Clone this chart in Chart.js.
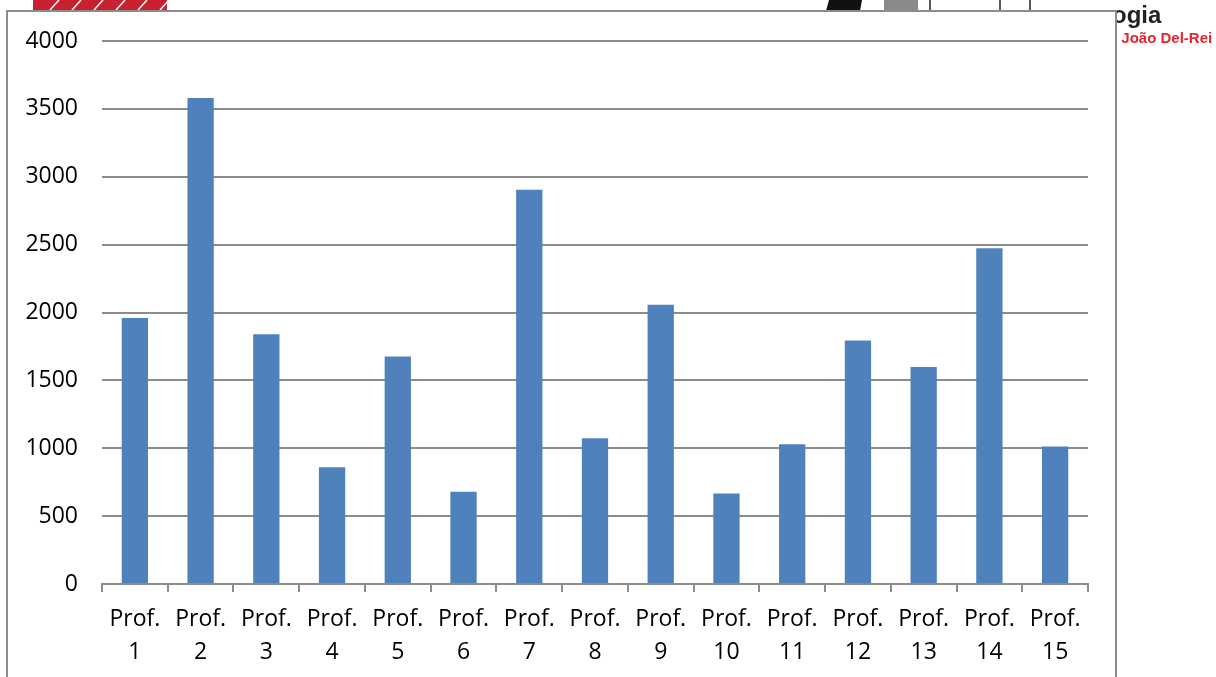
<!DOCTYPE html>
<html>
<head>
<meta charset="utf-8">
<script src="https://cdn.jsdelivr.net/npm/chart.js@4"></script>
<style>
  html, body { margin: 0; padding: 0; background: #fff; }
  #wrap { width: 1216px; height: 677px; position: relative; }
</style>
</head>
<body>
<div id="wrap"><canvas id="profChart"></canvas></div>
<script>
// dados
const professores = ['1', '2', '3', '4', '5', '6', '7', '8', '9', '10', '11', '12', '13', '14', '15'];
const valores = [1960, 3580, 1840, 860, 1675, 680, 2905, 1073, 2057, 667, 1029, 1794, 1598, 2473, 1012];
const yTicks = [0, 500, 1000, 1500, 2000, 2500, 3000, 3500, 4000];

const eixoCor = '#8c8c8c';
const fonte = "'Open Sans', sans-serif";

// moldura e logotipos cortados no topo
const fundoPlugin = {
    id: 'fundo',
    beforeDraw(chart) {
        const c = chart.ctx;
        c.save();
        c.fillStyle = '#fff';
        c.fillRect(0, 0, chart.width, chart.height);

        // logo vermelho à esquerda
        c.fillStyle = '#c9202f';
        c.fillRect(33, 0, 134, 10);
        c.strokeStyle = '#fff';
        c.lineWidth = 1.5;
        for (let x = 50; x < 170; x += 22) {
            c.beginPath();
            c.moveTo(x, 10);
            c.lineTo(x + 9, 0);
            c.stroke();
        }

        // logo à direita
        c.fillStyle = '#111';
        c.beginPath();
        c.moveTo(826, 11); c.lineTo(829, 0); c.lineTo(862, 0); c.lineTo(860, 11);
        c.fill();
        c.fillStyle = '#8a8a8a';
        c.fillRect(884, 0, 34, 11);
        c.strokeStyle = '#222';
        c.lineWidth = 1.5;
        [930, 1000, 1030].forEach(a => {
            c.beginPath(); c.moveTo(a, 0); c.lineTo(a, 11); c.stroke();
        });

        c.fillStyle = '#222';
        c.font = "bold 24px 'Liberation Sans', Arial, sans-serif";
        c.textBaseline = 'alphabetic';
        c.fillText('ogia', 1112, 23);
        c.fillStyle = '#e0262e';
        c.font = "bold 15px 'Liberation Sans', Arial, sans-serif";
        c.fillText('o João Del-Rei', 1108, 43);

        // caixa do gráfico
        c.fillStyle = '#fff';
        c.fillRect(7, 11, 1109, 700);
        c.strokeStyle = eixoCor;
        c.lineWidth = 2;
        c.strokeRect(7, 11, 1109, 700);
        c.restore();
    }
};

new Chart(document.getElementById('profChart'), {
    type: 'bar',
    data: {
        labels: professores.map(n => ['Prof.', n]),
        datasets: [{
            data: valores,
            backgroundColor: '#4f81bd',
            borderWidth: 0,
            categoryPercentage: 1,
            barPercentage: 0.4
        }]
    },
    options: {
        responsive: true,
        maintainAspectRatio: false,
        animation: false,
        layout: { padding: { left: 0, top: 41, right: 128, bottom: 0 } },
        plugins: {
            legend: { display: false },
            tooltip: { enabled: false }
        },
        scales: {
            x: {
                offset: true,
                grid: {
                    display: true,
                    offset: true,
                    drawOnChartArea: false,
                    drawTicks: true,
                    tickLength: 8,
                    color: eixoCor,
                    lineWidth: 2
                },
                border: { color: eixoCor, width: 2 },
                ticks: {
                    color: '#000',
                    padding: 11,
                    maxRotation: 0,
                    autoSkip: false,
                    font: { family: fonte, size: 23, lineHeight: 1.43 }
                },
                afterFit(scale) { scale.height = 93; }
            },
            y: {
                min: 0,
                max: 4000,
                afterBuildTicks(scale) { scale.ticks = yTicks.map(v => ({ value: v })); },
                grid: {
                    color: eixoCor,
                    lineWidth: 2,
                    drawTicks: false
                },
                border: { display: false },
                ticks: {
                    color: '#000',
                    padding: 24,
                    font: { family: fonte, size: 23 },
                    callback: value => String(value)
                },
                afterFit(scale) { scale.width = 102; }
            }
        }
    },
    plugins: [fundoPlugin]
});
</script>
</body>
</html>
